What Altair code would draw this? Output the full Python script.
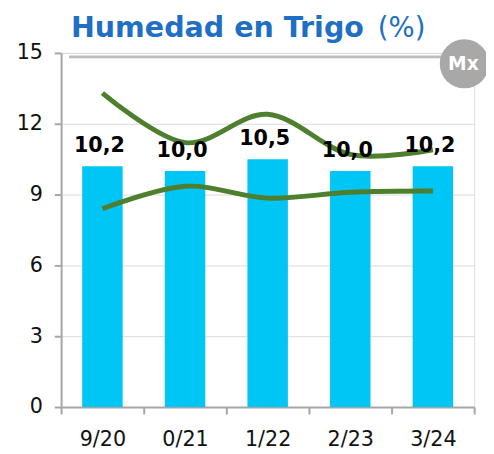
import altair as alt
import pandas as pd

seasons = ["9/20", "0/21", "1/22", "2/23", "3/24"]
humedad = [10.2, 10.0, 10.5, 10.0, 10.2]
maximo = [13.3, 11.2, 12.4, 10.7, 10.9]
minimo = [8.4, 9.35, 8.85, 9.1, 9.15]

W, H = 420, 360
FONT = "DejaVu Sans"

df = pd.DataFrame({
    "season": seasons,
    "hum": humedad,
    "label": [f"{v:.1f}".replace(".", ",") for v in humedad],
    "max": maximo,
    "min": minimo,
})

xenc = alt.X("season:N", sort=seasons,
             scale=alt.Scale(paddingInner=0, paddingOuter=0),
             axis=alt.Axis(title=None, labelAngle=0, labelFont=FONT, labelFontSize=21,
                           labelColor="#111111", labelPadding=15, tickBand="extent",
                           tickSize=7, tickColor="#a6a6a6", tickWidth=2,
                           domainColor="#a6a6a6", domainWidth=2, grid=False))
yscale = alt.Scale(domain=[0, 15], nice=False)
yaxis = alt.Axis(title=None, values=[0, 3, 6, 9, 12, 15], labelFont=FONT, labelFontSize=21,
                 labelColor="#111111", labelPadding=12, tickSize=7, tickColor="#a6a6a6",
                 tickWidth=2, domainColor="#a6a6a6", domainWidth=2,
                 grid=True, gridColor="#d9d9d9", gridWidth=1)

base = alt.Chart(df)

bars = base.mark_bar(color="#00c6f6", width=alt.RelativeBandSize(0.49)).encode(
    x=xenc, y=alt.Y("hum:Q", scale=yscale, axis=yaxis))

labels = base.mark_text(font=FONT, fontWeight="bold", fontSize=21, color="#000000",
                        baseline="bottom", dy=-10, dx=-3).encode(
    x=alt.X("season:N", sort=seasons), y=alt.Y("hum:Q"), text="label:N")

line_max = base.mark_line(color="#4e7f2e", strokeWidth=5, interpolate="cardinal").encode(
    x=alt.X("season:N", sort=seasons), y=alt.Y("max:Q"))
line_min = base.mark_line(color="#4e7f2e", strokeWidth=5, interpolate="cardinal").encode(
    x=alt.X("season:N", sort=seasons), y=alt.Y("min:Q"))

deco = alt.Chart(pd.DataFrame({"d": [0]}))
top_rule = deco.mark_rule(color="#bdbdbd", strokeWidth=3).encode(
    x=alt.value(8), x2=alt.value(W - 14), y=alt.value(4))
circle = deco.mark_circle(color="#a8a8a8", opacity=1, size=2500).encode(
    x=alt.value(410), y=alt.value(11))
mx = deco.mark_text(text="Mx", font=FONT, fontWeight="bold", fontSize=19, color="#ffffff",
                    baseline="middle", align="center").encode(
    x=alt.value(409), y=alt.value(11))
title1 = deco.mark_text(text="Humedad en Trigo", font=FONT, fontWeight="bold", fontSize=29,
                        color="#1f6fc5", align="left", baseline="alphabetic").encode(
    x=alt.value(10), y=alt.value(-16))
title2 = deco.mark_text(text="(%)", font=FONT, fontWeight="normal", fontSize=28,
                        color="#1f6fc5", align="left", baseline="alphabetic").encode(
    x=alt.value(322), y=alt.value(-16))

chart = alt.layer(bars, line_max, line_min, labels, top_rule, circle, mx, title1, title2).properties(
    width=W, height=H,
    autosize=alt.AutoSizeParams(type="none"),
    padding={"left": 54, "top": 42, "right": 12, "bottom": 40},
).configure_view(stroke=None).configure(background="#ffffff")

chart.save("out.html", embed_options={"renderer": "svg", "actions": False})
